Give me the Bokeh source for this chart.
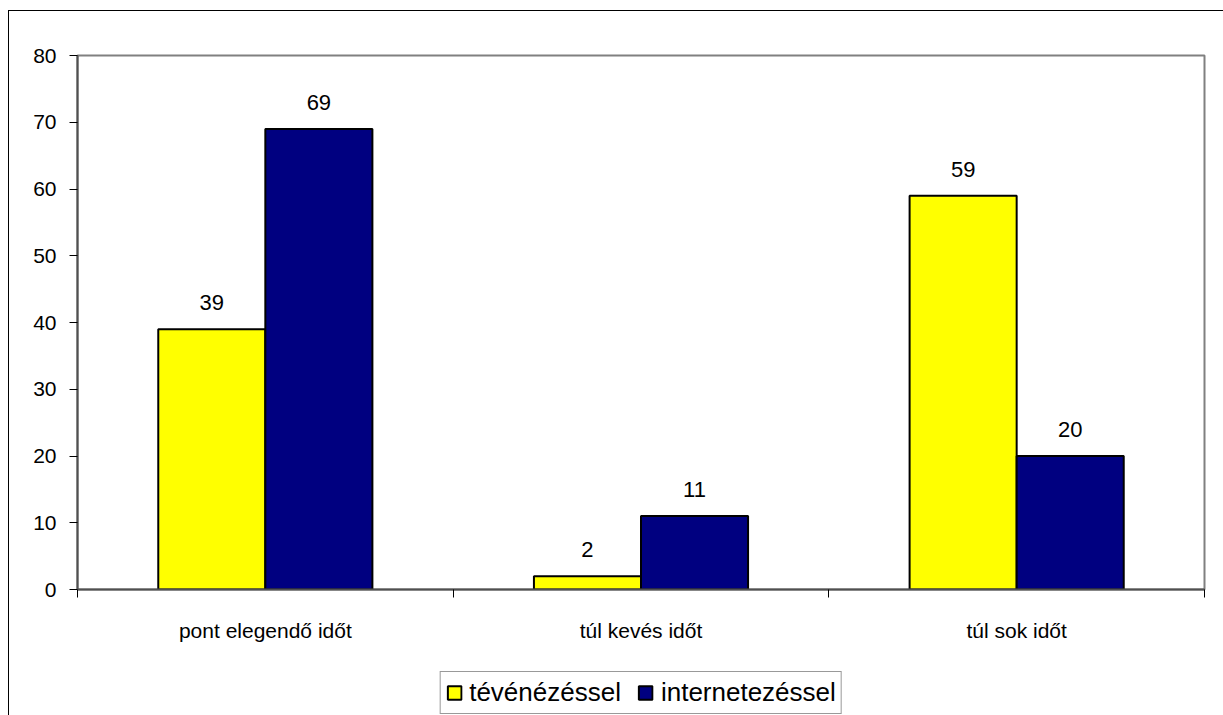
from bokeh.plotting import figure
from bokeh.models import (ColumnDataSource, Range1d, FixedTicker, LabelSet,
                          Legend, LegendItem)
from bokeh.layouts import column
from bokeh.core.properties import value
from bokeh.transform import dodge
from bokeh.embed import file_html
from bokeh.resources import INLINE

categories = ["pont elegendő időt", "túl kevés időt", "túl sok időt"]
tv = [39, 2, 59]
internet = [69, 11, 20]
series_names = ["tévénézéssel", "internetezéssel"]
series_colors = ["#FFFF00", "#000080"]
y_ticks = [0, 10, 20, 30, 40, 50, 60, 70, 80]

FONT = "Liberation Sans"
xpos = [i + 0.5 for i in range(len(categories))]
src = ColumnDataSource(dict(x=xpos, tv=tv, internet=internet,
                            tv_lbl=[str(v) for v in tv],
                            in_lbl=[str(v) for v in internet]))

p = figure(width=1214, height=638, output_backend="svg", toolbar_location=None,
           x_range=Range1d(0, len(categories)), y_range=Range1d(0, 80),
           min_border_left=68, min_border_right=19, min_border_top=44,
           min_border_bottom=60, background_fill_color="white",
           border_fill_color="white")
p.grid.visible = False
p.outline_line_color = "#808080"
p.outline_line_width = 2

bw = 0.285
r1 = p.vbar(x=dodge("x", -bw / 2, range=p.x_range), top="tv", width=bw, bottom=0,
            source=src, fill_color=series_colors[0], line_color="black", line_width=2)
r2 = p.vbar(x=dodge("x", bw / 2, range=p.x_range), top="internet", width=bw, bottom=0,
            source=src, fill_color=series_colors[1], line_color="black", line_width=2)

for col, lbl, off in (("tv", "tv_lbl", -bw / 2), ("internet", "in_lbl", bw / 2)):
    ls = LabelSet(x=dodge("x", off, range=p.x_range), y=col, text=lbl, source=src,
                  text_align="center", text_baseline="alphabetic", y_offset=19,
                  text_font=value(FONT), text_font_size="22px", text_color="black")
    p.add_layout(ls)

# y axis
ya = p.yaxis[0]
ya.ticker = FixedTicker(ticks=y_ticks)
ya.axis_line_color = "#505050"
ya.axis_line_width = 2
ya.major_tick_out = 8
ya.major_tick_in = 0
ya.major_tick_line_color = "black"
ya.minor_tick_line_color = None
ya.major_label_standoff = 13
ya.major_label_text_font = FONT
ya.major_label_text_font_size = "21px"
ya.major_label_text_color = "black"

# x axis
xa = p.xaxis[0]
xa.ticker = FixedTicker(ticks=xpos, minor_ticks=list(range(len(categories) + 1)))
xa.major_label_overrides = {x: c for x, c in zip(xpos, categories)}
xa.axis_line_color = "#505050"
xa.axis_line_width = 2
xa.major_tick_line_color = None
xa.major_tick_out = 8
xa.major_tick_in = 0
xa.minor_tick_line_color = "black"
xa.minor_tick_out = 8
xa.minor_tick_in = 0
xa.major_label_standoff = 21
xa.major_label_text_font = FONT
xa.major_label_text_font_size = "21px"
xa.major_label_text_color = "black"

# legend strip below the chart (its renderers are hidden; only the swatches show)
pl = figure(width=1214, height=66, output_backend="svg", toolbar_location=None,
            x_range=Range1d(0, len(categories)), y_range=Range1d(0, 80),
            x_axis_location=None, y_axis_location=None,
            min_border_left=68, min_border_right=19, min_border_top=0,
            min_border_bottom=0, background_fill_color="white",
            border_fill_color="white", outline_line_color=None)
pl.grid.visible = False
l1 = pl.vbar(x=dodge("x", -bw / 2, range=pl.x_range), top="tv", width=bw, bottom=0,
             source=src, fill_color=series_colors[0], line_color="black", line_width=2)
l2 = pl.vbar(x=dodge("x", bw / 2, range=pl.x_range), top="internet", width=bw, bottom=0,
             source=src, fill_color=series_colors[1], line_color="black", line_width=2)
l1.visible = False
l2.visible = False

legend = Legend(items=[LegendItem(label=series_names[0], renderers=[l1]),
                       LegendItem(label=series_names[1], renderers=[l2])],
                orientation="horizontal", location="bottom_center",
                click_policy="none", inactive_fill_alpha=0,
                glyph_width=17, glyph_height=17, label_standoff=7, spacing=16,
                padding=5, margin=1, label_height=24,
                label_text_font=FONT, label_text_font_size="26px",
                label_text_color="black", border_line_color="#333333",
                border_line_width=1, background_fill_alpha=1)
pl.add_layout(legend, "center")

lay = column(p, pl, spacing=0)
lay.styles = {"border-left": "1px solid black", "border-top": "1px solid black",
              "margin-left": "8px", "margin-top": "10px"}

open("out.html", "w").write(file_html(lay, INLINE))
